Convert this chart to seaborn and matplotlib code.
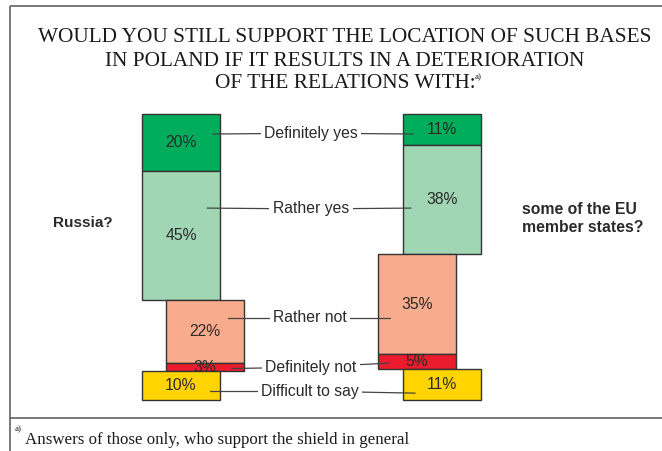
import matplotlib
matplotlib.use("Agg")
import matplotlib.pyplot as plt
import seaborn as sns
import numpy as np

# --- survey data -------------------------------------------------------------
questions = ["Russia?", "some of the EU\nmember states?"]
answers = ["Definitely yes", "Rather yes", "Rather not", "Definitely not", "Difficult to say"]
russia = [20, 45, 22, 3, 10]
eu_states = [11, 38, 35, 5, 11]
colors = ["#00AD5A", "#A0D6B4", "#F8AB8D", "#EC1C2E", "#FFD400"]

title_lines = [
    "WOULD YOU STILL SUPPORT THE LOCATION OF SUCH BASES",
    "IN POLAND IF IT RESULTS IN A DETERIORATION",
    "OF THE RELATIONS WITH:",
]
footnote = "Answers of those only, who support the shield in general"

# --- style ---------------------------------------------------------------------
sns.set_theme(style="white")
plt.rcParams["font.family"] = ["Liberation Sans", "DejaVu Sans"]
serif = ["Liberation Serif", "DejaVu Serif"]
ink = "#2a2a2a"
edge = "#333333"

W, H = 662, 451
fig = plt.figure(figsize=(W / 100, H / 100), dpi=100)

# page layer in pixel units: frame, heading, footnote
bg = fig.add_axes([0, 0, 1, 1])
bg.set_xlim(0, W)
bg.set_ylim(H, 0)
bg.axis("off")

# chart layer: x = question index, y = cumulative percent (0 at top)
ax = fig.add_axes([0, 0, 1, 1])
ax.patch.set_alpha(0)
top_px, px_per_pct = 114, 2.86
first_px, col_px = 181, 261
ax.set_ylim((H - top_px) / px_per_pct, -top_px / px_per_pct)
ax.set_xlim(-first_px / col_px, (W - first_px) / col_px)
ax.axis("off")

bar_w = 0.299
neg_shift = [0.092, -0.096]   # "no" answers are set off sideways

for i, vals in enumerate([russia, eu_states]):
    starts = np.concatenate([[0], np.cumsum(vals)[:-1]])
    for k, (v, s) in enumerate(zip(vals, starts)):
        x = i + (neg_shift[i] if k in (2, 3) else 0)
        ax.bar(x, v, width=bar_w, bottom=s, color=colors[k],
               edgecolor=edge, linewidth=1.0, zorder=2)
        ax.text(x, s + v / 2, f"{v}%", ha="center", va="center",
                fontsize=11.3, color=ink, zorder=4)

# leader lines from each answer label into both columns
left_anchor = [(0.123, 7.0), (0.100, 32.9), (0.180, 71.3), (0.195, 89.0), (0.111, 96.9)]
right_anchor = [(0.889, 7.0), (0.881, 32.9), (0.801, 71.3), (0.797, 87.1), (0.897, 97.6)]
label_pos = [(0.498, 6.7), (0.498, 33.2), (0.494, 71.3), (0.498, 88.5), (0.494, 96.9)]

for name, la, ra, lp in zip(answers, left_anchor, right_anchor, label_pos):
    ax.plot([la[0], lp[0]], [la[1], lp[1]], color="#444444", lw=0.9, zorder=3)
    ax.plot([lp[0], ra[0]], [lp[1], ra[1]], color="#444444", lw=0.9, zorder=3)
    ax.text(lp[0], lp[1], name, ha="center", va="center", fontsize=11.3,
            color=ink, zorder=5,
            bbox=dict(facecolor="white", edgecolor="none", pad=2.5))

# question labels beside the columns
bg.text(53, 223, questions[0], ha="left", va="center", fontsize=11,
        fontweight="bold", color=ink)
for j, line in enumerate(questions[1].split("\n")):
    bg.text(522, 210 + 17 * j, line, ha="left", va="center", fontsize=11.3,
            fontweight="bold", color=ink)

# frame
for xs, ys in [([10, 10], [6, H]), ([10, W], [6, 6]), ([10, W], [418, 418])]:
    bg.plot(xs, ys, color="#555555", lw=1.1, solid_capstyle="butt")

# heading
for j, line in enumerate(title_lines):
    t = bg.text(345, 38 + 23 * j, line, ha="center", va="center",
                fontsize=15.3, family=serif, color="#1a1a1a")
bg.text(475, 77, "a)", ha="left", va="center", fontsize=6.5, family=serif,
        color="#1a1a1a")

# footnote
bg.text(15, 429, "a)", ha="left", va="center", fontsize=6.5, family=serif,
        color="#1a1a1a")
bg.text(25, 440, footnote, ha="left", va="center", fontsize=12.2,
        family=serif, color="#1a1a1a")

fig.savefig("out.png", dpi=100)
